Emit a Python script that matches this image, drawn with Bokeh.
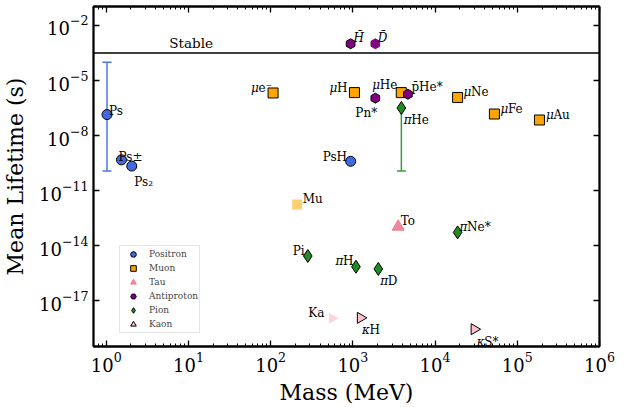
import numpy as np
from bokeh.plotting import figure
from bokeh.models import (LogAxis, FixedTicker, Span, Whisker, TeeHead, ColumnDataSource,
                          Legend, LegendItem, CustomJSTickFormatter, Label)
from bokeh.core.properties import value
from bokeh.embed import file_html
from bokeh.resources import INLINE

SERIF = "DejaVu Serif"

# ---------------- data (mass in MeV, mean lifetime in s) ----------------
pos_names = ["Ps", "Ps±", "Ps₂", "PsH"]
pos_mass = [1.022, 1.533, 2.044, 940.0]
pos_life = [1.4e-7, 4.8e-10, 2.2e-10, 4.0e-10]

muon_names = ["μe⁻", "μH", "μHe", "μNe", "μFe", "μAu"]
muon_mass = [107.0, 1045.0, 3880.0, 18800.0, 52700.0, 186000.0]
muon_life = [2.1e-6, 2.2e-6, 2.2e-6, 1.2e-6, 1.5e-7, 7.1e-8]
mu_name, mu_mass, mu_life = "Mu", 210.0, 1.8e-12

tau_names = ["To"]
tau_mass = [3560.0]
tau_life = [1.1e-13]

pbar_names = ["H̄", "Pn*", "p̄He*"]
pbar_mass = [938.8, 1876.0, 4670.0]
pbar_life = [1.0e-3, 1.1e-6, 1.8e-6]
dbar_name, dbar_mass, dbar_life = "D̄", 1876.0, 1.0e-3

pion_names = ["Pi", "πH", "πD", "πHe", "πNe*"]
pion_mass = [283.0, 1090.0, 2040.0, 3890.0, 18800.0]
pion_life = [2.8e-15, 7.3e-16, 5.5e-16, 3.2e-7, 5.4e-14]

kaon_names = ["κH", "κS*"]
kaon_mass = [1240.0, 30000.0]
kaon_life = [1.2e-18, 2.9e-19]
ka_name, ka_mass, ka_life = "Ka", 560.0, 1.15e-18

# error bars (Ps, πHe)
err_mass = [1.022, 3890.0]
err_lower = [1.2e-10, 1.2e-10]
err_upper = [1.0e-4, 3.2e-7]

stable_life = 10 ** -3.5

x_major = [10.0 ** k for k in range(0, 7)]
x_minor = [0.8, 0.9] + [m * 10.0 ** k for k in range(0, 6) for m in range(2, 10)]
y_major = [10.0 ** k for k in (-2, -5, -8, -11, -14, -17)]

# label offsets in screen px (left edge, baseline) relative to each point
label_off = {
    "Ps": (2, -4), "Ps±": (-3, -3), "Ps₂": (2.5, 16), "PsH": (-28, -4),
    "μe⁻": (-22, -5), "μH": (-25, -5), "μHe": (-29, -8), "μNe": (6, -5),
    "μFe": (6, -5), "μAu": (6.5, -4.5), "Mu": (5.5, -5), "To": (2.5, -5.5),
    "H̄": (3, -6), "D̄": (2.5, -6), "Pn*": (-20, 15), "p̄He*": (3.5, -7),
    "Pi": (-15, -5), "πH": (-20.5, -6), "πD": (2, 12.5), "πHe": (2.5, 12.5),
    "πNe*": (2, -5), "Ka": (-24, -5), "κH": (1.5, 12), "κS*": (2.5, 12.5),
}

p = figure(width=625, height=407, x_axis_type="log", y_axis_type="log",
           x_range=(0.7, 1e6), y_range=(10 ** -19.48, 10 ** -0.97),
           output_backend="svg", toolbar_location=None,
           min_border_left=93, min_border_right=26, min_border_top=6, min_border_bottom=60)
p.grid.visible = False
p.background_fill_color = "white"
p.border_fill_color = "white"
p.outline_line_color = "black"
p.outline_line_width = 1.8

# ------------------------ axes
p.xaxis.ticker = FixedTicker(ticks=x_major, minor_ticks=x_minor)
p.yaxis.ticker = FixedTicker(ticks=y_major)
p.xaxis.axis_label = "Mass (MeV)"
p.yaxis.axis_label = "Mean Lifetime (s)"
p.add_layout(LogAxis(ticker=FixedTicker(ticks=x_major, minor_ticks=x_minor),
                     formatter=CustomJSTickFormatter(code="return ''")), "above")
p.add_layout(LogAxis(ticker=FixedTicker(ticks=y_major),
                     formatter=CustomJSTickFormatter(code="return ''")), "right")
for ax in p.axis:
    ax.axis_line_width = 1.8
    ax.major_tick_in = 6
    ax.major_tick_out = 0
    ax.minor_tick_in = 3
    ax.minor_tick_out = 0
    ax.major_tick_line_width = 1.3
    ax.minor_tick_line_width = 1
    ax.major_label_text_font = SERIF
    ax.major_label_text_font_size = "18px"
    ax.major_label_text_color = "black"
    ax.axis_label_text_font = SERIF
    ax.axis_label_text_font_size = "22px"
    ax.axis_label_text_font_style = "normal"
    ax.axis_label_text_color = "black"
for ax in p.above + p.right:
    ax.major_label_standoff = 0
    ax.major_label_text_font_size = "0px"
p.xaxis[0].major_label_standoff = 3
p.xaxis[0].axis_label_standoff = 0
p.yaxis[0].major_label_standoff = 5
p.yaxis[0].axis_label_standoff = 8

# ------------------------ stable line
p.add_layout(Span(location=stable_life, dimension="width", line_color="black", line_width=1.5))
p.add_layout(Label(x=5.85, y=stable_life, y_offset=2, text="Stable", text_font=SERIF,
                   text_font_size="13.5px", text_baseline="bottom", text_color="black"))

# ------------------------ error bars
err_colors = ["#4f74e3", "#3d9a3d"]
for i in range(len(err_mass)):
    src = ColumnDataSource(dict(x=[err_mass[i]], lo=[err_lower[i]], up=[err_upper[i]]))
    w = Whisker(source=src, base="x", lower="lo", upper="up", dimension="height",
                line_color=err_colors[i], line_width=1.5, level="underlay",
                lower_head=TeeHead(size=9, line_color=err_colors[i], line_width=1.5),
                upper_head=TeeHead(size=9, line_color=err_colors[i], line_width=1.5))
    p.add_layout(w)

# ------------------------ markers
r_pos = p.scatter(pos_mass, pos_life, marker="circle", size=10, fill_color="royalblue", line_color="black", line_width=1)
r_muon = p.scatter(muon_mass, muon_life, marker="square", size=10, fill_color="orange", line_color="black", line_width=1)
p.scatter([mu_mass], [mu_life], marker="square", size=10, fill_color="orange", fill_alpha=0.55, line_color=None)
r_tau = p.scatter(tau_mass, tau_life, marker="triangle", size=12, fill_color="#ee7b90", line_color="#ee7b90", fill_alpha=0.9)
r_pbar = p.scatter(pbar_mass, pbar_life, marker="hex", angle=np.pi / 6, size=10, fill_color="purple", line_color="black", line_width=1)
p.scatter([dbar_mass], [dbar_life], marker="hex", angle=np.pi / 6, size=10, fill_color="purple", line_color="purple")
r_pion = p.scatter(pion_mass, pion_life, marker="diamond", size=13, fill_color="forestgreen", line_color="black", line_width=1)
r_kaon = p.scatter(kaon_mass, kaon_life, marker="triangle", angle=-np.pi / 2, size=11, fill_color="pink", line_color="black", line_width=1)
p.scatter([ka_mass], [ka_life], marker="triangle", angle=-np.pi / 2, size=11, fill_color="pink", fill_alpha=0.7, line_color=None)

# ------------------------ point labels (greek prefix drawn in italic)
all_names = pos_names + muon_names + [mu_name] + tau_names + pbar_names + [dbar_name] + pion_names + kaon_names + [ka_name]
all_mass = pos_mass + muon_mass + [mu_mass] + tau_mass + pbar_mass + [dbar_mass] + pion_mass + kaon_mass + [ka_mass]
all_life = pos_life + muon_life + [mu_life] + tau_life + pbar_life + [dbar_life] + pion_life + kaon_life + [ka_life]
GREEK_W = 7.5
norm = dict(x=[], y=[], t=[], dx=[], dy=[])
ital = dict(x=[], y=[], t=[], dx=[], dy=[])
for name, m, l in zip(all_names, all_mass, all_life):
    dx, dy = label_off[name]
    if name[0] in "μπκ" or name in ("H̄", "D̄"):
        g = name if name in ("H̄", "D̄") else name[0]
        rest = "" if name in ("H̄", "D̄") else name[1:]
        for k, v in zip(("x", "y", "t", "dx", "dy"), (m, l, g, dx, dy)):
            ital[k].append(v)
        if rest:
            for k, v in zip(("x", "y", "t", "dx", "dy"), (m, l, rest, dx + GREEK_W, dy)):
                norm[k].append(v)
    else:
        for k, v in zip(("x", "y", "t", "dx", "dy"), (m, l, name, dx, dy)):
            norm[k].append(v)
p.text(x="x", y="y", text="t", x_offset="dx", y_offset="dy", source=ColumnDataSource(norm),
       text_font=value(SERIF), text_font_size="12px", text_baseline="alphabetic", text_align="left", text_color="black")
p.text(x="x", y="y", text="t", x_offset="dx", y_offset="dy", source=ColumnDataSource(ital),
       text_font=value(SERIF), text_font_size="12px", text_font_style="italic",
       text_baseline="alphabetic", text_align="left", text_color="black")

# ------------------------ legend
legend = Legend(items=[LegendItem(label="Positron", renderers=[r_pos]),
                       LegendItem(label="Muon", renderers=[r_muon]),
                       LegendItem(label="Tau", renderers=[r_tau]),
                       LegendItem(label="Antiproton", renderers=[r_pbar]),
                       LegendItem(label="Pion", renderers=[r_pion]),
                       LegendItem(label="Kaon", renderers=[r_kaon])],
                location=(26, 13), margin=0, padding=1, spacing=0,
                glyph_width=24, glyph_height=14, label_height=13, label_standoff=4,
                label_text_font=SERIF, label_text_font_size="9px",
                border_line_color="#cccccc", border_line_width=1,
                background_fill_color="white", background_fill_alpha=0.85)
p.add_layout(legend)

open("out.html", "w").write(file_html(p, INLINE))
